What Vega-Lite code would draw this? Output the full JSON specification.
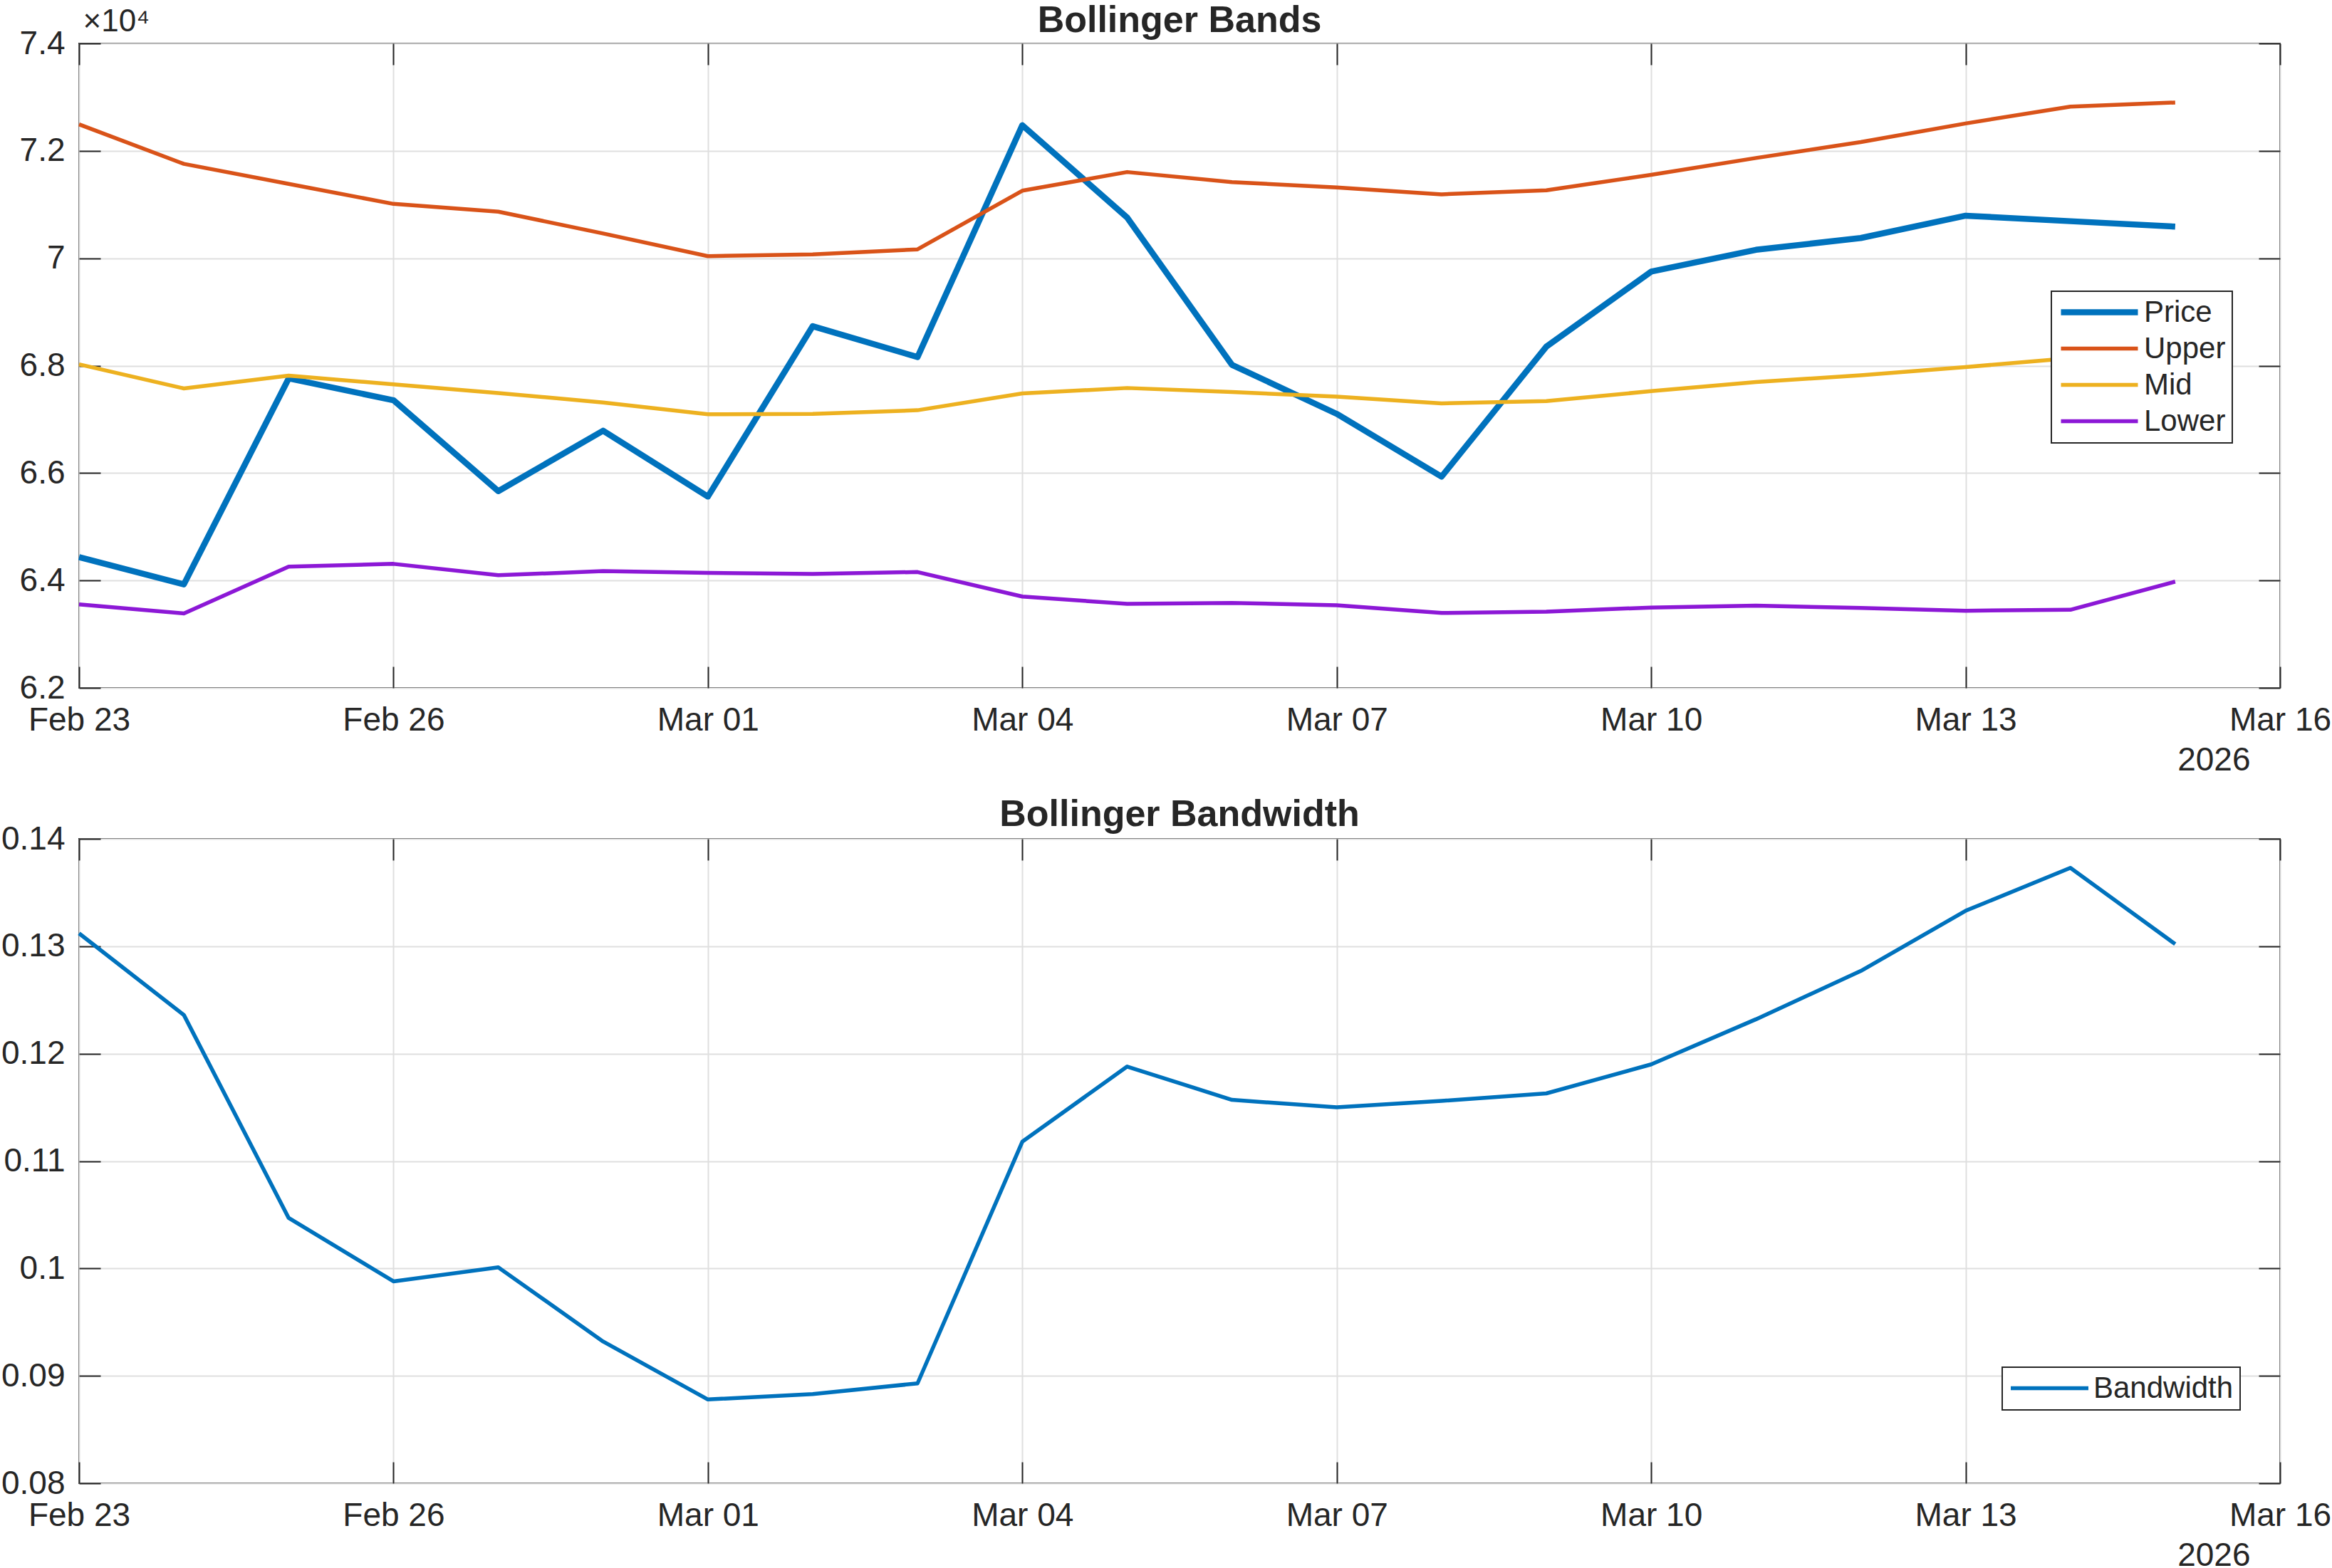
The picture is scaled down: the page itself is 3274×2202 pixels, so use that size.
{
  "$schema": "https://vega.github.io/schema/vega-lite/v6.json",
  "background": "white",
  "padding": {"left": 0, "top": 2, "right": 0, "bottom": 0},
  "config": {
    "font": "Liberation Sans",
    "view": {"stroke": "#262626", "strokeWidth": 2},
    "axis": {
      "labelFont": "Liberation Sans", "labelFontSize": 46, "labelColor": "#262626",
      "tickColor": "#262626", "tickWidth": 2, "tickSize": -30, "domain": false,
      "gridColor": "#dfdfdf", "gridWidth": 2,
      "titleFont": "Liberation Sans", "titleFontWeight": "normal", "titleColor": "#262626",
      "labelOverlap": false, "labelFlush": false, "labelBound": false
    },
    "title": {"font": "Liberation Sans", "fontSize": 52, "fontWeight": "bold", "color": "#262626", "anchor": "middle"},
    "legend": {"labelFont": "Liberation Sans", "labelColor": "#262626", "labelLimit": 500}
  },
  "datasets": {
    "bb": [
      {"date": "2026-02-23", "Price": 64436, "Upper": 72493, "Mid": 68025, "Lower": 63556, "Bandwidth": 0.1312},
      {"date": "2026-02-24", "Price": 63928, "Upper": 71757, "Mid": 67576, "Lower": 63386, "Bandwidth": 0.1236},
      {"date": "2026-02-25", "Price": 67762, "Upper": 71385, "Mid": 67813, "Lower": 64258, "Bandwidth": 0.1047},
      {"date": "2026-02-26", "Price": 67356, "Upper": 71012, "Mid": 67652, "Lower": 64309, "Bandwidth": 0.0988},
      {"date": "2026-02-27", "Price": 65663, "Upper": 70868, "Mid": 67491, "Lower": 64097, "Bandwidth": 0.1001},
      {"date": "2026-02-28", "Price": 66789, "Upper": 70462, "Mid": 67314, "Lower": 64173, "Bandwidth": 0.0932},
      {"date": "2026-03-01", "Price": 65562, "Upper": 70039, "Mid": 67094, "Lower": 64140, "Bandwidth": 0.0878},
      {"date": "2026-03-02", "Price": 68735, "Upper": 70073, "Mid": 67102, "Lower": 64123, "Bandwidth": 0.0883},
      {"date": "2026-03-03", "Price": 68160, "Upper": 70166, "Mid": 67170, "Lower": 64157, "Bandwidth": 0.0893},
      {"date": "2026-03-04", "Price": 72477, "Upper": 71258, "Mid": 67483, "Lower": 63700, "Bandwidth": 0.1118},
      {"date": "2026-03-05", "Price": 70758, "Upper": 71605, "Mid": 67584, "Lower": 63564, "Bandwidth": 0.1188},
      {"date": "2026-03-06", "Price": 68016, "Upper": 71419, "Mid": 67508, "Lower": 63581, "Bandwidth": 0.1157},
      {"date": "2026-03-07", "Price": 67102, "Upper": 71317, "Mid": 67424, "Lower": 63539, "Bandwidth": 0.1150},
      {"date": "2026-03-08", "Price": 65934, "Upper": 71190, "Mid": 67297, "Lower": 63395, "Bandwidth": 0.1156},
      {"date": "2026-03-09", "Price": 68355, "Upper": 71266, "Mid": 67339, "Lower": 63420, "Bandwidth": 0.1163},
      {"date": "2026-03-10", "Price": 69751, "Upper": 71554, "Mid": 67525, "Lower": 63496, "Bandwidth": 0.1190},
      {"date": "2026-03-11", "Price": 70157, "Upper": 71867, "Mid": 67694, "Lower": 63530, "Bandwidth": 0.1232},
      {"date": "2026-03-12", "Price": 70377, "Upper": 72163, "Mid": 67821, "Lower": 63488, "Bandwidth": 0.1277},
      {"date": "2026-03-13", "Price": 70792, "Upper": 72510, "Mid": 67974, "Lower": 63437, "Bandwidth": 0.1333},
      {"date": "2026-03-14", "Price": 70690, "Upper": 72824, "Mid": 68139, "Lower": 63454, "Bandwidth": 0.1373},
      {"date": "2026-03-15", "Price": 70589, "Upper": 72900, "Mid": 68440, "Lower": 63979, "Bandwidth": 0.1302}
    ]
  },
  "bounds": "flush",
  "spacing": 212,
  "resolve": {
    "scale": {"color": "independent", "strokeWidth": "independent"},
    "legend": {"color": "independent", "strokeWidth": "independent"}
  },
  "vconcat": [
    {
      "width": 3090,
      "height": 905,
      "title": {"text": "Bollinger Bands", "offset": -48},
      "data": {"name": "bb"},
      "transform": [{"fold": ["Price", "Upper", "Mid", "Lower"], "as": ["series", "value"]}],
      "layer": [
        {
          "mark": {"type": "line", "strokeJoin": "round"},
          "encoding": {
            "x": {
              "field": "date", "type": "temporal",
              "scale": {"type": "utc", "domain": [{"year": 2026, "month": "feb", "date": 23, "utc": true}, {"year": 2026, "month": "mar", "date": 16, "utc": true}]},
              "axis": {
                "orient": "bottom", "grid": true, "labelPadding": 53,
                "values": [
                  {"year": 2026, "month": "feb", "date": 23, "utc": true},
                  {"year": 2026, "month": "feb", "date": 26, "utc": true},
                  {"year": 2026, "month": "mar", "date": 1, "utc": true},
                  {"year": 2026, "month": "mar", "date": 4, "utc": true},
                  {"year": 2026, "month": "mar", "date": 7, "utc": true},
                  {"year": 2026, "month": "mar", "date": 10, "utc": true},
                  {"year": 2026, "month": "mar", "date": 13, "utc": true},
                  {"year": 2026, "month": "mar", "date": 16, "utc": true}
                ],
                "labelExpr": "utcFormat(datum.value, '%b %d')",
                "title": "2026", "titleFontSize": 46, "titleAlign": "right", "titleBaseline": "alphabetic",
                "titleX": 3048, "titleY": 115, "titleAngle": 0
              }
            },
            "y": {
              "field": "value", "type": "quantitative",
              "scale": {"domain": [62000, 74000], "zero": false, "nice": false},
              "axis": {
                "orient": "left", "grid": true, "labelPadding": 50, "labelBaseline": "middle",
                "values": [62000, 64000, 66000, 68000, 70000, 72000, 74000],
                "labelExpr": "format(datum.value / 10000, '.1~f')",
                "title": "×10⁴", "titleFontSize": 44, "titleAngle": 0, "titleAlign": "left",
                "titleBaseline": "alphabetic", "titleX": 5, "titleY": -18
              }
            },
            "color": {
              "field": "series", "type": "nominal",
              "scale": {"domain": ["Price", "Upper", "Mid", "Lower"], "range": ["#0072BD", "#D95319", "#EDB120", "#8C18D6"]},
              "legend": {
                "title": null, "orient": "none", "legendX": 2769, "legendY": 348,
                "symbolType": "stroke", "symbolSize": 11664, "labelFontSize": 42,
                "padding": 9, "clipHeight": 41, "rowPadding": 8, "labelOffset": 4,
                "strokeColor": "#262626", "fillColor": "white",
                "encode": {"legend": {"update": {"strokeWidth": {"value": 2}}}}
              }
            },
            "strokeWidth": {
              "field": "series", "type": "nominal",
              "scale": {"type": "ordinal", "domain": ["Price", "Upper", "Mid", "Lower"], "range": [8.5, 5.5, 5.5, 5.5]},
              "legend": {
                "title": null, "orient": "none", "legendX": 2769, "legendY": 348,
                "symbolType": "stroke", "symbolSize": 11664, "labelFontSize": 42,
                "padding": 9, "clipHeight": 41, "rowPadding": 8, "labelOffset": 4,
                "strokeColor": "#262626", "fillColor": "white",
                "encode": {"legend": {"update": {"strokeWidth": {"value": 2}}}}
              }
            }
          }
        },
        {
          "mark": {"type": "line", "strokeOpacity": 0},
          "encoding": {
            "x": {
              "field": "date", "type": "temporal",
              "axis": {
                "orient": "top", "grid": false, "labels": false, "title": null,
                "values": [
                  {"year": 2026, "month": "feb", "date": 23, "utc": true},
                  {"year": 2026, "month": "feb", "date": 26, "utc": true},
                  {"year": 2026, "month": "mar", "date": 1, "utc": true},
                  {"year": 2026, "month": "mar", "date": 4, "utc": true},
                  {"year": 2026, "month": "mar", "date": 7, "utc": true},
                  {"year": 2026, "month": "mar", "date": 10, "utc": true},
                  {"year": 2026, "month": "mar", "date": 13, "utc": true},
                  {"year": 2026, "month": "mar", "date": 16, "utc": true}
                ]
              }
            },
            "y": {
              "field": "value", "type": "quantitative",
              "axis": {"orient": "right", "grid": false, "labels": false, "title": null, "values": [62000, 64000, 66000, 68000, 70000, 72000, 74000]}
            },
            "detail": {"field": "series"}
          }
        }
      ],
      "resolve": {"axis": {"x": "independent", "y": "independent"}}
    },
    {
      "width": 3090,
      "height": 905,
      "title": {"text": "Bollinger Bandwidth", "offset": -16},
      "data": {"name": "bb"},
      "layer": [
        {
          "mark": {"type": "line", "strokeJoin": "round", "strokeWidth": 5.5},
          "encoding": {
            "x": {
              "field": "date", "type": "temporal",
              "scale": {"type": "utc", "domain": [{"year": 2026, "month": "feb", "date": 23, "utc": true}, {"year": 2026, "month": "mar", "date": 16, "utc": true}]},
              "axis": {
                "orient": "bottom", "grid": true, "labelPadding": 53,
                "values": [
                  {"year": 2026, "month": "feb", "date": 23, "utc": true},
                  {"year": 2026, "month": "feb", "date": 26, "utc": true},
                  {"year": 2026, "month": "mar", "date": 1, "utc": true},
                  {"year": 2026, "month": "mar", "date": 4, "utc": true},
                  {"year": 2026, "month": "mar", "date": 7, "utc": true},
                  {"year": 2026, "month": "mar", "date": 10, "utc": true},
                  {"year": 2026, "month": "mar", "date": 13, "utc": true},
                  {"year": 2026, "month": "mar", "date": 16, "utc": true}
                ],
                "labelExpr": "utcFormat(datum.value, '%b %d')",
                "title": "2026", "titleFontSize": 46, "titleAlign": "right", "titleBaseline": "alphabetic",
                "titleX": 3048, "titleY": 115, "titleAngle": 0
              }
            },
            "y": {
              "field": "Bandwidth", "type": "quantitative",
              "scale": {"domain": [0.08, 0.14], "zero": false, "nice": false},
              "axis": {
                "orient": "left", "grid": true, "labelPadding": 50, "labelBaseline": "middle",
                "values": [0.08, 0.09, 0.1, 0.11, 0.12, 0.13, 0.14],
                "labelExpr": "format(datum.value, '.2~f')",
                "title": null
              }
            },
            "color": {
              "datum": "Bandwidth", "type": "nominal",
              "scale": {"domain": ["Bandwidth"], "range": ["#0072BD"]},
              "legend": {
                "title": null, "orient": "none", "legendX": 2700, "legendY": 742,
                "symbolType": "stroke", "symbolSize": 11881, "symbolStrokeWidth": 5.5, "labelFontSize": 42,
                "padding": 9, "clipHeight": 41, "labelOffset": 4,
                "strokeColor": "#262626", "fillColor": "white",
                "encode": {"legend": {"update": {"strokeWidth": {"value": 2}}}}
              }
            }
          }
        },
        {
          "mark": {"type": "line", "strokeOpacity": 0},
          "encoding": {
            "x": {
              "field": "date", "type": "temporal",
              "axis": {
                "orient": "top", "grid": false, "labels": false, "title": null,
                "values": [
                  {"year": 2026, "month": "feb", "date": 23, "utc": true},
                  {"year": 2026, "month": "feb", "date": 26, "utc": true},
                  {"year": 2026, "month": "mar", "date": 1, "utc": true},
                  {"year": 2026, "month": "mar", "date": 4, "utc": true},
                  {"year": 2026, "month": "mar", "date": 7, "utc": true},
                  {"year": 2026, "month": "mar", "date": 10, "utc": true},
                  {"year": 2026, "month": "mar", "date": 13, "utc": true},
                  {"year": 2026, "month": "mar", "date": 16, "utc": true}
                ]
              }
            },
            "y": {
              "field": "Bandwidth", "type": "quantitative",
              "axis": {"orient": "right", "grid": false, "labels": false, "title": null, "values": [0.08, 0.09, 0.1, 0.11, 0.12, 0.13, 0.14]}
            }
          }
        }
      ],
      "resolve": {"axis": {"x": "independent", "y": "independent"}}
    }
  ]
}
